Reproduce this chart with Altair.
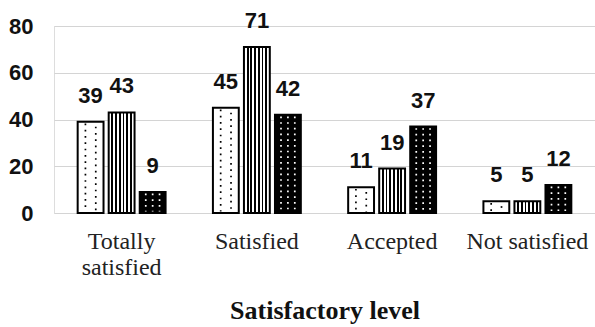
import altair as alt
import pandas as pd

categories = ["Totally satisfied", "Satisfied", "Accepted", "Not satisfied"]
series_names = ["Series 1", "Series 2", "Series 3"]
series1 = [39, 45, 11, 5]
series2 = [43, 71, 19, 5]
series3 = [9, 42, 37, 12]
y_ticks = [0, 20, 40, 60, 80]

rows = []
for si, (name, vals) in enumerate(zip(series_names, [series1, series2, series3])):
    for c, v in zip(categories, vals):
        rows.append({"category": c, "series": name, "sidx": si, "value": v})
df = pd.DataFrame(rows)

# sub-slot grid used only to place the texture dots inside each bar
SLOTS_PER_STEP = 18
slot_domain = list(range(51))

x_enc = alt.X(
    "category:N", sort=categories,
    scale=alt.Scale(paddingInner=0.35, paddingOuter=0.175),
    axis=alt.Axis(
        title="Satisfactory level", titleFont="Liberation Serif", titleFontSize=26,
        titleFontWeight="bold", titleColor="#111", titlePadding=18,
        labelFont="Liberation Serif", labelFontSize=24, labelColor="#222",
        labelPadding=16, labelLineHeight=26, labelAngle=0, domain=False, ticks=False,
        labelExpr="datum.label == 'Totally satisfied' ? ['Totally', 'satisfied'] : datum.label",
    ),
)
xo = alt.XOffset("series:N", sort=series_names,
                 scale=alt.Scale(type="band", domain=series_names, paddingInner=1 / 6, paddingOuter=0))
y_enc = alt.Y(
    "value:Q", scale=alt.Scale(domain=[0, 80]),
    axis=alt.Axis(
        values=y_ticks, title=None, labelFont="Liberation Sans", labelFontWeight="bold",
        labelFontSize=22, labelColor="#111", labelPadding=21, domain=False, ticks=False,
        grid=True, gridColor="#d4d4d4", gridWidth=1.2,
    ),
)

base = alt.Chart(df).encode(x=x_enc, xOffset=xo, y=y_enc)

stops = [alt.GradientStop(offset=0, color="white")]
for k in range(1, 7):
    c = k / 7
    stops += [
        alt.GradientStop(offset=c - 0.035, color="white"),
        alt.GradientStop(offset=c - 0.035, color="black"),
        alt.GradientStop(offset=c + 0.035, color="black"),
        alt.GradientStop(offset=c + 0.035, color="white"),
    ]
stops.append(alt.GradientStop(offset=1, color="white"))
stripes = alt.Gradient(gradient="linear", stops=stops, x1=0, x2=1, y1=0, y2=0)

bar1 = base.transform_filter(alt.datum.series == series_names[0]).mark_bar(
    fill="white", stroke="black", strokeWidth=2)
bar2 = base.transform_filter(alt.datum.series == series_names[1]).mark_bar(
    fill=stripes, stroke="black", strokeWidth=2)
bar3 = base.transform_filter(alt.datum.series == series_names[2]).mark_bar(
    fill="black", stroke="black", strokeWidth=2)

labels = base.mark_text(
    font="Liberation Sans", fontWeight="bold", fontSize=22, color="#111",
    baseline="alphabetic", dy=-19,
).encode(text="value:Q")


def dots(sname, color, col, dash, offset=0):
    return (
        alt.Chart(df)
        .transform_filter(alt.datum.series == sname)
        .transform_calculate(
            slot=f"datum.sidx * {SLOTS_PER_STEP} + {col}",
            top="datum.value - 0.7",
            bot="0.6",
        )
        .mark_rule(color=color, strokeWidth=1.7, strokeDash=dash, strokeDashOffset=offset)
        .encode(
            x=x_enc,
            xOffset=alt.XOffset("slot:O", scale=alt.Scale(type="band", domain=slot_domain,
                                                         paddingInner=0, paddingOuter=0)),
            y=alt.Y("top:Q"),
            y2=alt.Y2("bot:Q"),
        )
    )


dot_layers = [dots(series_names[0], "black", 4, [1.7, 4.6]),
              dots(series_names[0], "black", 10, [1.7, 4.6], 3.1)]
dot_layers += [dots(series_names[2], "white", c, [1.7, 4.0]) for c in (3, 7, 11)]

main = alt.layer(bar1, bar2, bar3, labels)
texture = alt.layer(*dot_layers)

chart = (
    alt.layer(main, texture)
    .resolve_scale(xOffset="independent")
    .properties(
        width=541, height=187,
        padding={"left": 54, "top": 26, "right": 0, "bottom": 114},
        autosize=alt.AutoSizeParams(type="none"),
    )
    .configure_view(stroke=None)
    .configure(background="white")
)

chart.save("out.html", embed_options={"renderer": "svg", "actions": False})
